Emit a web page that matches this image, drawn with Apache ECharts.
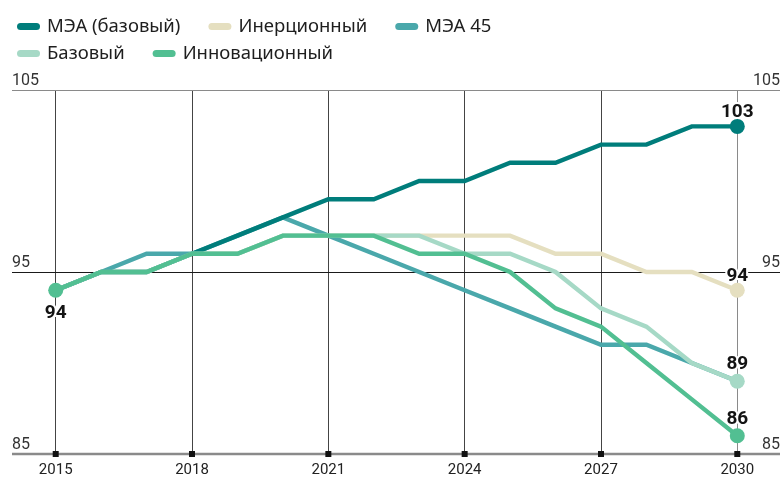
<!DOCTYPE html>
<html><head><meta charset="utf-8">
<script src="https://cdn.jsdelivr.net/npm/echarts@6/dist/echarts.min.js"></script>
<style>html,body{margin:0;padding:0;background:#fff}#c{width:784px;height:478px}</style>
</head><body><div id="c"></div>
<script>
const years = [2015,2016,2017,2018,2019,2020,2021,2022,2023,2024,2025,2026,2027,2028,2029,2030];
const xTicks = [2015,2018,2021,2024,2027,2030];
const yTicks = [85,95,105];
const meaBase  = [94,95,95,96,97,98,99,99,100,100,101,101,102,102,103,103];
const inertial = [94,95,95,96,96,97,97,97,97,97,97,96,96,95,95,94];
const mea45    = [94,95,96,96,97,98,97,96,95,94,93,92,91,91,90,89];
const baseS    = [94,95,95,96,96,97,97,97,97,96,96,95,93,92,90,89];
const innov    = [94,95,95,96,96,97,97,97,96,96,95,93,92,90,88,86];
const names = ['МЭА (базовый)','Инерционный','МЭА 45','Базовый','Инновационный'];
const colors = {dark:'#007d7b', beige:'#e5dfc0', teal:'#4aa8ab', mint:'#a6d9c6', green:'#52bf92'};

const pair = arr => years.map((y,i)=>[y,arr[i]]);
const pill = 'path://M3.5,0 H19.5 A3.5,3.5 0 0 1 19.5,7 H3.5 A3.5,3.5 0 0 1 3.5,0 Z';
const last = years.length-1;
const lbl = {fontFamily:'Roboto', fontWeight:'bold', fontSize:19, color:'#141414', opacity:1, textBorderColor:'#fff', textBorderWidth:4};

function lineS(name, arr, color, z){
  return {name, type:'line', data:pair(arr), showSymbol:false, z, color,
    lineStyle:{width:4.4, color, cap:'butt', join:'miter'}, itemStyle:{color}, silent:true};
}
const endPts = [
  {value:[years[last], meaBase[last]], itemStyle:{color:colors.dark}, label:{position:'top', distance:-3}},
  {value:[years[last], inertial[last]], itemStyle:{color:colors.beige}, label:{position:'top', distance:-3}},
  {value:[years[last], baseS[last]], itemStyle:{color:colors.mint}, label:{position:'top', distance:0}},
  {value:[years[last], innov[last]], itemStyle:{color:colors.green}, label:{position:'top', distance:0}},
  {value:[years[0], innov[0]], itemStyle:{color:colors.green}, label:{position:'bottom', distance:6}}
];

const chart = echarts.init(document.getElementById('c'), null, {renderer:'canvas'});
const legendCommon = {icon:pill, itemWidth:23, itemHeight:7, itemGap:28, selectedMode:false,
  textStyle:{fontFamily:'Noto Sans', fontSize:18.5, color:'#1e1e1e', padding:[0,0,0,2]}};
chart.setOption({
  animation:false,
  legend:[
    Object.assign({left:12, top:12, data:names.slice(0,3)}, legendCommon),
    Object.assign({left:12, top:39, data:names.slice(3)}, legendCommon)
  ],
  grid:{left:12, right:4, top:90, bottom:23.5, containLabel:false},
  xAxis:{type:'value', min:2014.038, max:2030.94,
    axisLine:{show:false}, axisTick:{show:false}, splitLine:{show:false},
    axisLabel:{customValues:xTicks, formatter:v=>String(Math.round(v)), fontFamily:'Roboto', fontSize:15, color:'#222', margin:9}},
  yAxis:[
    {type:'value', min:85, max:105, interval:5, position:'left',
     axisLine:{show:false}, axisTick:{show:false}, splitLine:{show:false},
     axisLabel:{customValues:yTicks, inside:true, margin:0, align:'left', verticalAlign:'bottom', padding:[0,0,1,0],
       fontFamily:'Roboto', fontSize:16, color:'#333'}},
    {type:'value', min:85, max:105, interval:5, position:'right',
     axisLine:{show:false}, axisTick:{show:false}, splitLine:{show:false},
     axisLabel:{customValues:yTicks, inside:true, margin:0, align:'right', verticalAlign:'bottom', padding:[0,0,1,0],
       fontFamily:'Roboto', fontSize:16, color:'#333'}}
  ],
  series:[
    {type:'scatter', name:'ticks', data:xTicks.map(x=>[x,85]), symbol:'rect', symbolSize:6,
     itemStyle:{color:'#111', opacity:1}, z:12, clip:false, silent:true,
     markLine:{silent:true, symbol:'none', z:1, label:{show:false}, animation:false,
       data:[
         ...xTicks.map(x=>({xAxis:x, lineStyle:{color: x===2030?'#8a8a8a':'#444', width:1, type:'solid'}})),
         {yAxis:105, lineStyle:{color:'#8a8a8a', width:1.2, type:'solid'}},
         {yAxis:95, lineStyle:{color:'#1a1a1a', width:1, type:'solid'}},
         {yAxis:85, lineStyle:{color:'#8a8a8a', width:2.4, type:'solid'}}
       ]}},
    lineS(names[1], inertial, colors.beige, 2),
    lineS(names[2], mea45, colors.teal, 3),
    lineS(names[0], meaBase, colors.dark, 4),
    lineS(names[3], baseS, colors.mint, 5),
    lineS(names[4], innov, colors.green, 6),
    {type:'scatter', name:'ends', data:endPts, symbol:'circle', symbolSize:15, z:10, clip:false, silent:true,
     itemStyle:{opacity:1},
     label:Object.assign({show:true, formatter:p=>String(p.value[1])}, lbl)}
  ]
});
</script></body></html>
